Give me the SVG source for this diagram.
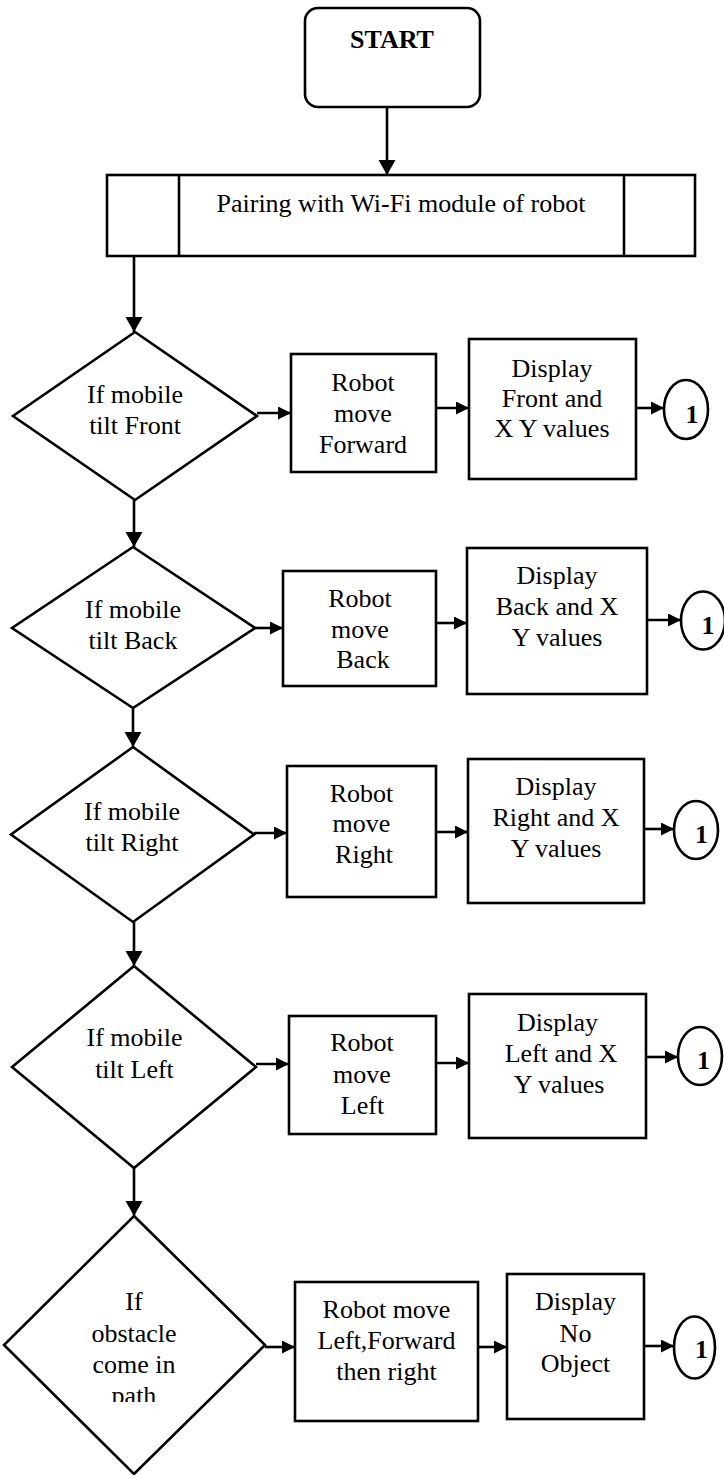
<svg xmlns="http://www.w3.org/2000/svg" width="724" height="1475" viewBox="0 0 724 1475">
<style>
.s{fill:#fff;stroke:#000;stroke-width:2.6}
.c{fill:none;stroke:#000;stroke-width:2.6}
.t{font-family:"Liberation Serif","Times New Roman",serif;font-size:26px;fill:#000;text-anchor:middle}
.b{font-family:"Liberation Serif","Times New Roman",serif;font-weight:bold;fill:#000;text-anchor:middle}
.n{font-size:26px}
</style>
<defs>
<marker id="ah" markerUnits="userSpaceOnUse" markerWidth="14" markerHeight="14" refX="13" refY="6.5" orient="auto"><path d="M0,0 L13,6.5 L0,13 z" fill="#000"/></marker>
<marker id="av" markerUnits="userSpaceOnUse" markerWidth="16" markerHeight="18" refX="15" refY="8.5" orient="auto"><path d="M0,0 L15,8.5 L0,17 z" fill="#000"/></marker>
<clipPath id="clipPath"><rect x="0" y="1300" width="300" height="102"/></clipPath>
</defs>

<g id="connectors">
<path class="c" d="M387,107 L387,175" marker-end="url(#av)"/>
<path class="c" d="M134,256 L134,332" marker-end="url(#av)"/>
<path class="c" d="M134,500 L134,547" marker-end="url(#av)"/>
<path class="c" d="M133,708 L133,747" marker-end="url(#av)"/>
<path class="c" d="M134,922 L134,966" marker-end="url(#av)"/>
<path class="c" d="M134,1168 L134,1216" marker-end="url(#av)"/>
<path class="c" d="M257,413 L291,413" marker-end="url(#ah)"/>
<path class="c" d="M436,408 L469,408" marker-end="url(#ah)"/>
<path class="c" d="M636,408 L664,408" marker-end="url(#ah)"/>
<path class="c" d="M255,628 L283,628" marker-end="url(#ah)"/>
<path class="c" d="M436,623 L467,623" marker-end="url(#ah)"/>
<path class="c" d="M647,620 L681,620" marker-end="url(#ah)"/>
<path class="c" d="M254,833 L287,833" marker-end="url(#ah)"/>
<path class="c" d="M436,832 L468,832" marker-end="url(#ah)"/>
<path class="c" d="M644,829 L674,829" marker-end="url(#ah)"/>
<path class="c" d="M256,1064 L289,1064" marker-end="url(#ah)"/>
<path class="c" d="M436,1063 L469,1063" marker-end="url(#ah)"/>
<path class="c" d="M646,1057 L678,1057" marker-end="url(#ah)"/>
<path class="c" d="M265,1347 L295,1347" marker-end="url(#ah)"/>
<path class="c" d="M476,1347 L507,1347" marker-end="url(#ah)"/>
<path class="c" d="M644,1346 L674,1346" marker-end="url(#ah)"/>
</g>

<g id="start">
<rect class="s" x="305" y="8" width="175" height="99" rx="13"/>
<text class="b" x="392" y="48" font-size="26">START</text>
</g>

<g id="pairing">
<rect class="s" x="107" y="175" width="588" height="81"/>
<line class="c" x1="179" y1="175" x2="179" y2="256"/>
<line class="c" x1="624" y1="175" x2="624" y2="256"/>
<text class="t" x="401" y="212">Pairing with Wi-Fi module of robot</text>
</g>

<g id="tilt-front">
<polygon class="s" points="135,332 257,416 135,500 13,416"/>
<text class="t"><tspan x="135" y="403">If mobile</tspan><tspan x="135" y="434">tilt Front</tspan></text>
</g>
<g id="move-forward">
<rect class="s" x="291" y="354" width="145" height="118"/>
<text class="t"><tspan x="363" y="391">Robot</tspan><tspan x="363" y="422">move</tspan><tspan x="363" y="453">Forward</tspan></text>
</g>
<g id="display-front">
<rect class="s" x="469" y="339" width="167" height="140"/>
<text class="t"><tspan x="552" y="377">Display</tspan><tspan x="552" y="407">Front and</tspan><tspan x="552" y="437">X Y values</tspan></text>
</g>
<g id="conn1-front">
<ellipse class="s" cx="686" cy="409.5" rx="22" ry="29.5"/>
<text class="b n" x="692" y="423">1</text>
</g>

<g id="tilt-back">
<polygon class="s" points="133,547 255,628 133,708 12,628"/>
<text class="t"><tspan x="133" y="618">If mobile</tspan><tspan x="133" y="649">tilt Back</tspan></text>
</g>
<g id="move-back">
<rect class="s" x="283" y="571" width="153" height="115"/>
<text class="t"><tspan x="360" y="607">Robot</tspan><tspan x="360" y="638">move</tspan><tspan x="363" y="668">Back</tspan></text>
</g>
<g id="display-back">
<rect class="s" x="467" y="548" width="180" height="146"/>
<text class="t"><tspan x="557" y="584">Display</tspan><tspan x="557" y="615">Back and X</tspan><tspan x="557" y="646">Y values</tspan></text>
</g>
<g id="conn1-back">
<ellipse class="s" cx="703" cy="620.5" rx="22" ry="29"/>
<text class="b n" x="708" y="634">1</text>
</g>

<g id="tilt-right">
<polygon class="s" points="133,747 254,834.5 133,922 11,834.5"/>
<text class="t"><tspan x="132" y="820">If mobile</tspan><tspan x="132" y="851">tilt Right</tspan></text>
</g>
<g id="move-right">
<rect class="s" x="287" y="766" width="149" height="131"/>
<text class="t"><tspan x="361.5" y="802">Robot</tspan><tspan x="361.5" y="832">move</tspan><tspan x="364" y="863">Right</tspan></text>
</g>
<g id="display-right">
<rect class="s" x="468" y="759" width="176" height="144"/>
<text class="t"><tspan x="556" y="795">Display</tspan><tspan x="556" y="826">Right and X</tspan><tspan x="556" y="857">Y values</tspan></text>
</g>
<g id="conn1-right">
<ellipse class="s" cx="696" cy="830" rx="22" ry="29"/>
<text class="b n" x="701.5" y="843">1</text>
</g>

<g id="tilt-left">
<polygon class="s" points="134,966 256,1067 134,1168 12,1067"/>
<text class="t"><tspan x="134.5" y="1046">If mobile</tspan><tspan x="134.5" y="1078">tilt Left</tspan></text>
</g>
<g id="move-left">
<rect class="s" x="289" y="1016" width="147" height="118"/>
<text class="t"><tspan x="362" y="1051">Robot</tspan><tspan x="362" y="1083">move</tspan><tspan x="362.5" y="1114">Left</tspan></text>
</g>
<g id="display-left">
<rect class="s" x="469" y="994" width="177" height="144"/>
<text class="t"><tspan x="557.5" y="1031">Display</tspan><tspan x="561" y="1062">Left and X</tspan><tspan x="559" y="1093">Y values</tspan></text>
</g>
<g id="conn1-left">
<ellipse class="s" cx="700" cy="1056" rx="22" ry="29"/>
<text class="b n" x="703.5" y="1069">1</text>
</g>

<g id="obstacle">
<polygon class="s" points="134,1216 265,1345 134,1474 4,1345"/>
<text class="t"><tspan x="134" y="1310">If</tspan><tspan x="134" y="1342">obstacle</tspan><tspan x="134" y="1373">come in</tspan></text>
<text class="t" x="134" y="1404" clip-path="url(#clipPath)">path</text>
</g>
<g id="move-avoid">
<rect class="s" x="295" y="1282" width="183" height="139"/>
<text class="t"><tspan x="386.5" y="1318">Robot move</tspan><tspan x="386.5" y="1349">Left,Forward</tspan><tspan x="386.5" y="1380">then right</tspan></text>
</g>
<g id="display-noobject">
<rect class="s" x="507" y="1274" width="137" height="145"/>
<text class="t"><tspan x="575.5" y="1310">Display</tspan><tspan x="575.5" y="1342">No</tspan><tspan x="575.5" y="1372">Object</tspan></text>
</g>
<g id="conn1-obstacle">
<ellipse class="s" cx="694.5" cy="1347.5" rx="20.5" ry="31"/>
<text class="b n" x="701.5" y="1358">1</text>
</g>
</svg>
